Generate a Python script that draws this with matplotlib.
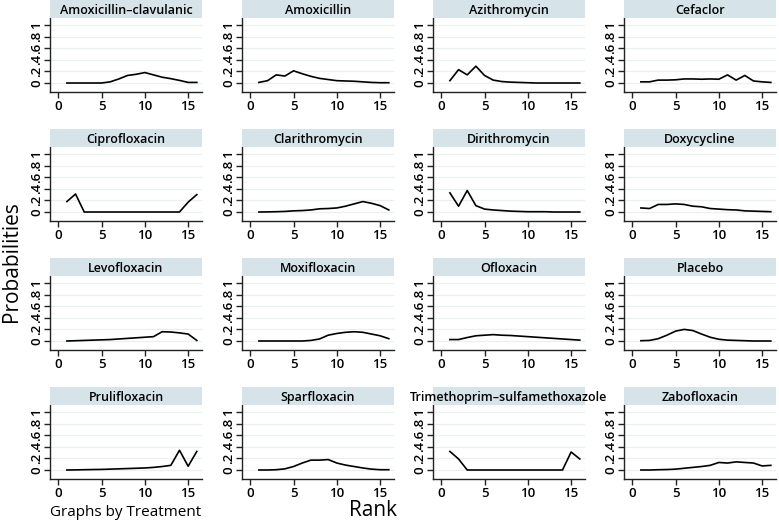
import numpy as np
import matplotlib
matplotlib.use('Agg')
import matplotlib.pyplot as plt

plt.rcParams['font.family'] = ['Open Sans', 'DejaVu Sans']

ranks = np.arange(1, 17)

treatments = ['Amoxicillin\u2013clavulanic', 'Amoxicillin', 'Azithromycin', 'Cefaclor',
              'Ciprofloxacin', 'Clarithromycin', 'Dirithromycin', 'Doxycycline',
              'Levofloxacin', 'Moxifloxacin', 'Ofloxacin', 'Placebo',
              'Prulifloxacin', 'Sparfloxacin', 'Trimethoprim\u2013sulfamethoxazole', 'Zabofloxacin']

amox_clav = [0, 0, 0, 0, 0, 0.02, 0.07, 0.13, 0.15, 0.18, 0.14, 0.10, 0.075, 0.045, 0.01, 0.01]
amox      = [0.01, 0.04, 0.14, 0.12, 0.21, 0.16, 0.115, 0.08, 0.06, 0.04, 0.035, 0.03, 0.02, 0.01, 0.005, 0.005]
azith     = [0.04, 0.23, 0.14, 0.29, 0.13, 0.05, 0.025, 0.015, 0.01, 0.005, 0, 0, 0, 0, 0, 0]
cefaclor  = [0.02, 0.02, 0.05, 0.05, 0.055, 0.07, 0.07, 0.065, 0.07, 0.065, 0.14, 0.05, 0.13, 0.035, 0.02, 0.01]
cipro     = [0.18, 0.31, 0, 0, 0, 0, 0, 0, 0, 0, 0, 0, 0, 0, 0.17, 0.30]
clari     = [0, 0.002, 0.005, 0.01, 0.02, 0.025, 0.035, 0.055, 0.06, 0.07, 0.10, 0.14, 0.18, 0.15, 0.11, 0.035]
dirith    = [0.33, 0.10, 0.37, 0.11, 0.05, 0.035, 0.025, 0.015, 0.01, 0.005, 0.005, 0.005, 0, 0, 0, 0]
doxy      = [0.07, 0.06, 0.13, 0.13, 0.14, 0.13, 0.10, 0.09, 0.06, 0.05, 0.04, 0.035, 0.02, 0.015, 0.01, 0.005]
levo      = [0, 0.005, 0.01, 0.015, 0.02, 0.025, 0.035, 0.045, 0.055, 0.065, 0.075, 0.16, 0.155, 0.14, 0.12, 0.01]
moxi      = [0, 0, 0, 0, 0, 0, 0.01, 0.035, 0.10, 0.13, 0.15, 0.16, 0.15, 0.12, 0.09, 0.04]
oflox     = [0.025, 0.025, 0.06, 0.09, 0.10, 0.11, 0.10, 0.095, 0.085, 0.075, 0.065, 0.055, 0.045, 0.035, 0.025, 0.015]
placebo   = [0.005, 0.01, 0.04, 0.10, 0.17, 0.20, 0.18, 0.12, 0.065, 0.03, 0.015, 0.01, 0.005, 0, 0, 0]
pruli     = [0, 0.002, 0.005, 0.008, 0.01, 0.015, 0.02, 0.025, 0.03, 0.035, 0.045, 0.06, 0.08, 0.34, 0.065, 0.32]
sparf     = [0, 0, 0.005, 0.02, 0.06, 0.12, 0.17, 0.17, 0.18, 0.12, 0.085, 0.06, 0.035, 0.015, 0.005, 0.005]
tmp_smx   = [0.32, 0.19, 0, 0, 0, 0, 0, 0, 0, 0, 0, 0, 0, 0, 0.31, 0.19]
zabo      = [0, 0, 0.005, 0.008, 0.015, 0.03, 0.045, 0.06, 0.08, 0.13, 0.12, 0.14, 0.13, 0.12, 0.07, 0.08]

series = [amox_clav, amox, azith, cefaclor, cipro, clari, dirith, doxy,
          levo, moxi, oflox, placebo, pruli, sparf, tmp_smx, zabo]

W, H = 779, 523
fig = plt.figure(figsize=(W/100, H/100), dpi=100)

col_left = [50, 242, 433, 624]
row_top = [18.3, 147.3, 276.3, 405.3]
ax_w = 152
ax_h = 73.7
strip_h = 18

strip_col = '#d6e4ea'
grid_col = '#e8f0f2'

for i, name in enumerate(treatments):
    r, c = divmod(i, 4)
    x0 = col_left[c]
    y0 = row_top[r]
    ax = fig.add_axes([x0/W, 1 - (y0 + ax_h)/H, ax_w/W, ax_h/H])
    ax.plot(ranks, series[i], color='black', lw=1.2)
    ax.set_xlim(-0.95, 16.6)
    ax.set_ylim(-0.155, 1.115)
    ax.set_xticks([0, 5, 10, 15])
    ax.set_yticks([0, 0.2, 0.4, 0.6, 0.8, 1])
    ax.set_yticklabels(['0', '.2', '.4', '.6', '.8', '1'], rotation=90, va='center')
    ax.grid(axis='y', color=grid_col, lw=0.9)
    ax.set_axisbelow(True)
    for s in ['top', 'right']:
        ax.spines[s].set_visible(False)
    for s in ['left', 'bottom']:
        ax.spines[s].set_color('#222222')
        ax.spines[s].set_linewidth(1.0)
    ax.tick_params(length=4, width=1.0, color='#222222', labelsize=9.5, pad=2)
    ax.tick_params(axis='y', pad=1)
    for lab in ax.get_xticklabels() + ax.get_yticklabels():
        lab.set_fontweight('semibold')

    sax = fig.add_axes([x0/W, 1 - y0/H, ax_w/W, strip_h/H])
    sax.set_facecolor(strip_col)
    sax.set_xticks([])
    sax.set_yticks([])
    for s in sax.spines.values():
        s.set_visible(False)
    sax.text(0.5, 0.45, name, ha='center', va='center', fontsize=9,
             fontweight='semibold', transform=sax.transAxes, clip_on=False)

fig.text(12/W, 1 - 262/H, 'Probabilities', rotation=90, ha='center', va='center', fontsize=15)
fig.text(373/W, 1 - 511/H, 'Rank', ha='center', va='center', fontsize=15)
fig.text(50/W, 1 - 512/H, 'Graphs by Treatment', ha='left', va='center', fontsize=11)

fig.savefig('out.png', dpi=100)
